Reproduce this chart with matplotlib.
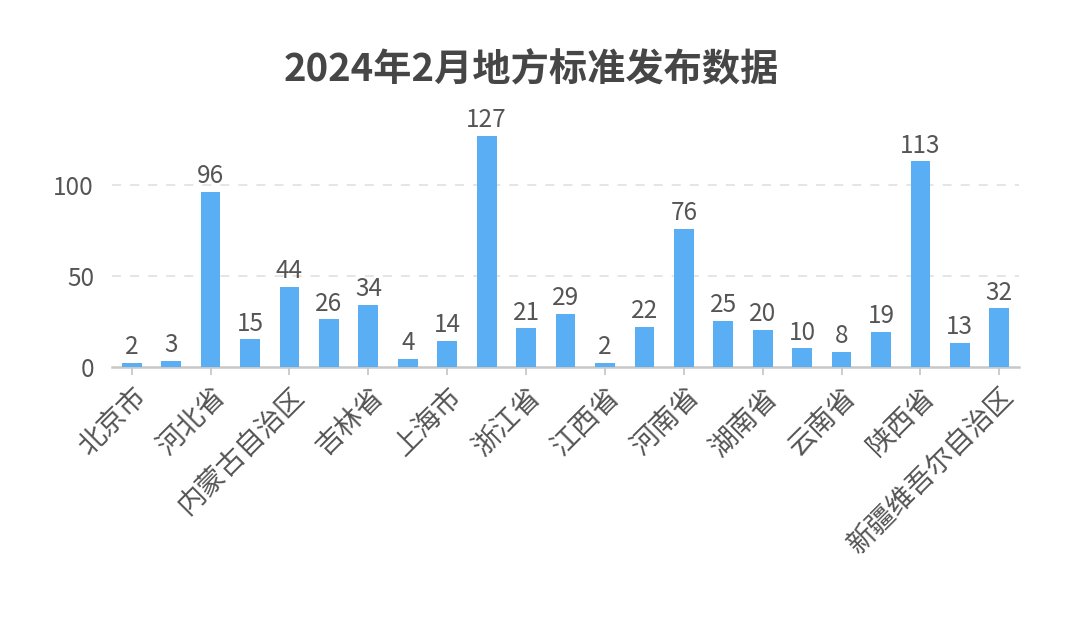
import matplotlib
matplotlib.use("Agg")
import matplotlib.pyplot as plt
import numpy as np

plt.rcParams['font.family'] = ['Noto Sans CJK SC', 'DejaVu Sans']

# data
provinces = ['北京市', '天津市', '河北省', '山西省', '内蒙古自治区', '辽宁省', '吉林省',
             '黑龙江省', '上海市', '江苏省', '浙江省', '安徽省', '江西省', '山东省',
             '河南省', '湖北省', '湖南省', '四川省', '云南省', '西藏自治区', '陕西省',
             '甘肃省', '新疆维吾尔自治区']
counts = [2, 3, 96, 15, 44, 26, 34, 4, 14, 127, 21, 29, 2, 22, 76, 25, 20, 10, 8, 19, 113, 13, 32]
title = '2024年2月地方标准发布数据'

text_color = '#555555'
bar_color = '#5AAEF4'

fig = plt.figure(figsize=(10.67, 6.26), dpi=100)
ax = fig.add_axes([0.105, 0.4145, 0.850, 0.406])

x = np.arange(len(provinces))
bars = ax.bar(x, counts, width=0.5, color=bar_color, zorder=3)
for xi, v in zip(x, counts):
    ax.annotate(str(v), (xi, v), xytext=(0, 2), textcoords='offset points',
                ha='center', va='bottom', fontsize=17.5, color=text_color)

ax.set_xlim(-0.5, len(provinces) - 0.5)
ax.set_ylim(0, 140)
ax.set_yticks([0, 50, 100])
ax.tick_params(axis='y', length=0, labelsize=17.5, labelcolor=text_color, pad=13)
for yv in [50, 100]:
    ax.axhline(yv, color='#e3e3e3', lw=1.3, ls=(0, (5, 5)), zorder=1)

shown = x[::2]
ax.set_xticks(shown)
ax.set_xticklabels([provinces[i] for i in shown], rotation=45, ha='right',
                   rotation_mode='anchor', fontsize=20, color=text_color)
ax.tick_params(axis='x', length=6, width=1.3, color='#c8c8c8', pad=5)

for s in ['top', 'right', 'left']:
    ax.spines[s].set_visible(False)
ax.spines['bottom'].set_color('#c8c8c8')
ax.spines['bottom'].set_linewidth(1.8)

fig.text(0.498, 0.888, title, ha='center', va='center', fontsize=27.5,
         fontweight='bold', color='#464646')

fig.savefig('out.png', dpi=100, facecolor='white')
